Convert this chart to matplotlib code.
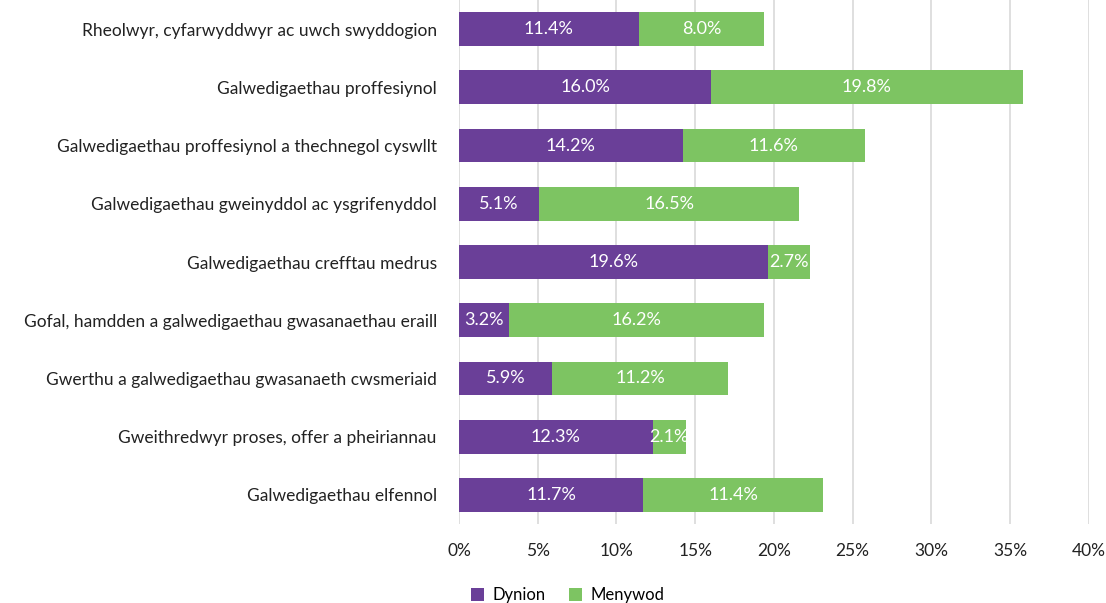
import matplotlib
matplotlib.use("Agg")
import matplotlib.pyplot as plt
import numpy as np

plt.rcParams["font.family"] = ["Lato", "DejaVu Sans"]

categories = [
    "Rheolwyr, cyfarwyddwyr ac uwch swyddogion",
    "Galwedigaethau proffesiynol",
    "Galwedigaethau proffesiynol a thechnegol cyswllt",
    "Galwedigaethau gweinyddol ac ysgrifenyddol",
    "Galwedigaethau crefftau medrus",
    "Gofal, hamdden a galwedigaethau gwasanaethau eraill",
    "Gwerthu a galwedigaethau gwasanaeth cwsmeriaid",
    "Gweithredwyr proses, offer a pheiriannau",
    "Galwedigaethau elfennol",
]
dynion = [11.4, 16.0, 14.2, 5.1, 19.6, 3.2, 5.9, 12.3, 11.7]
menywod = [8.0, 19.8, 11.6, 16.5, 2.7, 16.2, 11.2, 2.1, 11.4]
xticks = [0, 5, 10, 15, 20, 25, 30, 35, 40]

PURPLE = "#6a3f98"
GREEN = "#7dc462"

fig = plt.figure(figsize=(11.06, 6.03), dpi=100)
ax = fig.add_axes([0.415, 0.131, 0.5695, 0.869])

y = np.arange(len(categories))
h = 0.58
b1 = ax.barh(y, dynion, height=h, color=PURPLE, label="Dynion", zorder=3)
b2 = ax.barh(y, menywod, left=dynion, height=h, color=GREEN, label="Menywod", zorder=3)

for i in range(len(categories)):
    ax.text(dynion[i] / 2, y[i], f"{dynion[i]:.1f}%", ha="center", va="center",
            color="white", fontsize=13, zorder=4)
    ax.text(dynion[i] + menywod[i] / 2, y[i], f"{menywod[i]:.1f}%", ha="center", va="center",
            color="white", fontsize=13, zorder=4)

ax.set_xlim(0, 40)
ax.set_ylim(len(categories) - 0.5, -0.5)
ax.set_xticks(xticks)
ax.set_xticklabels([f"{t}%" for t in xticks], fontsize=12.5, color="#222222")
ax.set_yticks(y)
ax.set_yticklabels(categories, fontsize=12.5, color="#222222")
ax.tick_params(axis="y", length=0, pad=16)
ax.tick_params(axis="x", length=0, pad=14)
ax.grid(axis="x", color="#d9d9d9", linewidth=1.2, zorder=0)
for s in ax.spines.values():
    s.set_visible(False)

fig.legend(handles=[b1, b2], loc="lower center", bbox_to_anchor=(0.513, -0.025), ncol=2,
           frameon=False, fontsize=12, handlelength=0.8, handleheight=0.8,
           columnspacing=1.4, handletextpad=0.5)

fig.savefig("out.png", dpi=100)
